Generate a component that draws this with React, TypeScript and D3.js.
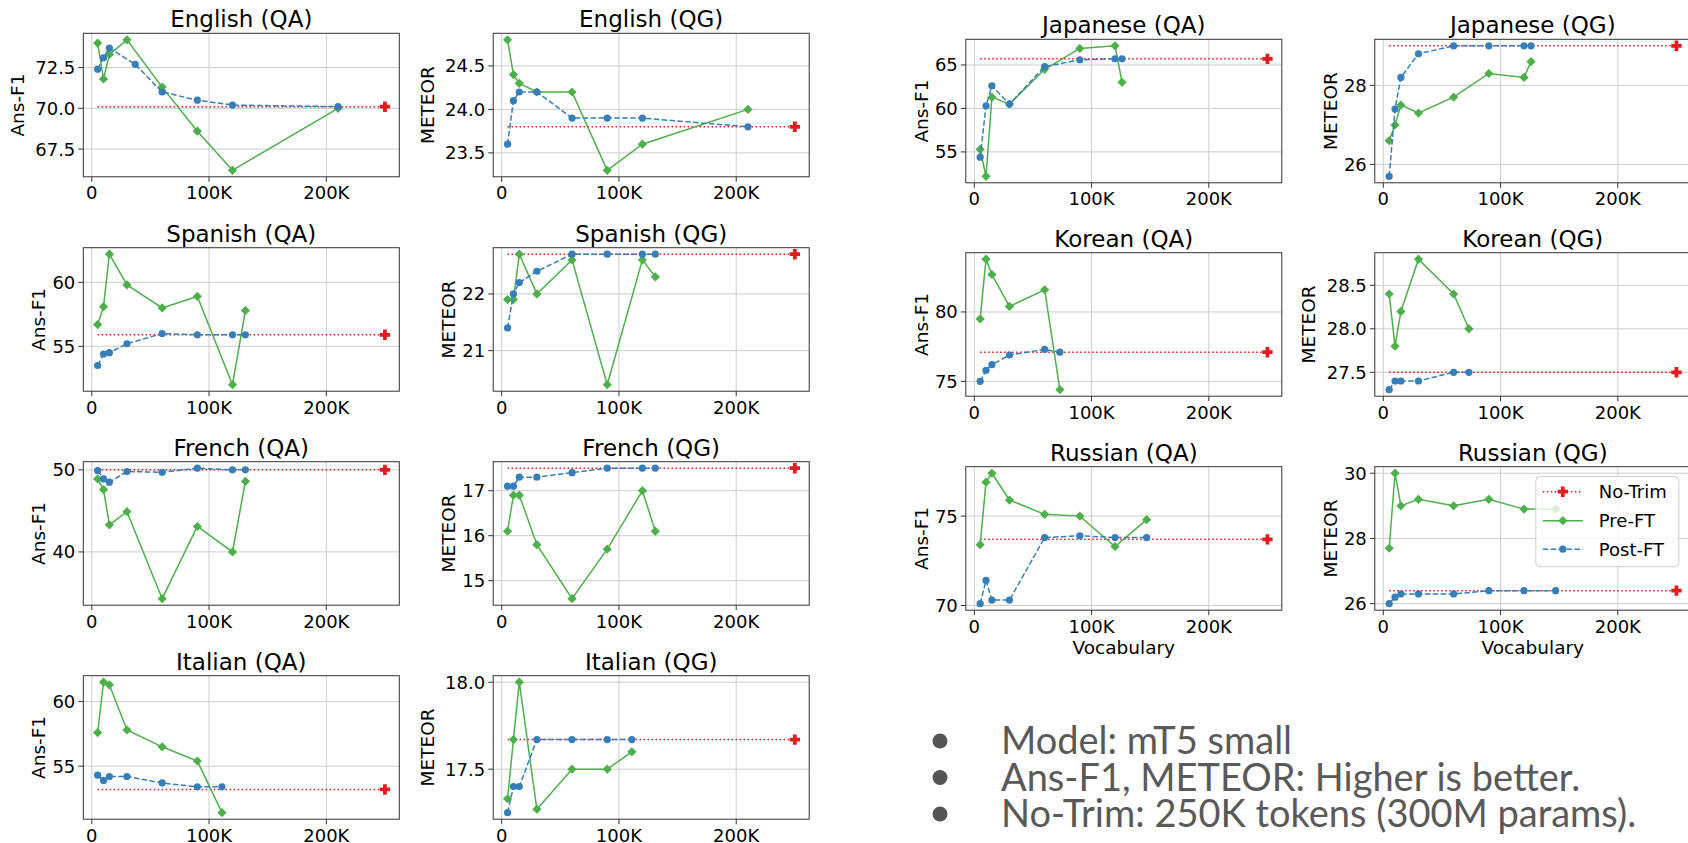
import React from "react";
import * as d3 from "d3";

// ---------------- DATA ----------------
const vocabEn = [5, 10, 15, 30, 60, 90, 120, 210];
const vocabEnQAPost = [5, 10, 15, 37, 60, 90, 120, 210];
const vocabEs = [5, 10, 15, 30, 60, 90, 120, 131];
const vocabFr = [5, 10, 15, 30, 60, 90, 120, 131];
const vocabIt = [5, 10, 15, 30, 60, 90, 111];
const vocabJa = [5, 10, 15, 30, 60, 90, 120, 126];
const vocabKo = [5, 10, 15, 30, 60, 73];
const vocabRu = [5, 10, 15, 30, 60, 90, 120, 147];
const noTrimVocab = 250;
const xTicks = [0, 100, 200];
const xTickLabels = ["0", "100K", "200K"];

const enQAPre = [74.0, 71.8, 73.3, 74.2, 71.3, 68.6, 66.2, 70.0];
const enQAPost = [72.4, 73.1, 73.7, 72.7, 71.0, 70.5, 70.2, 70.1];
const enQANoTrim = 70.1;
const enQGPre = [24.8, 24.4, 24.3, 24.2, 24.2, 23.3, 23.6, 24.0];
const enQGPost = [23.6, 24.1, 24.2, 24.2, 23.9, 23.9, 23.9, 23.8];
const enQGNoTrim = 23.8;

const esQAPre = [56.7, 58.1, 62.2, 59.8, 58.0, 58.9, 52.0, 57.8];
const esQAPost = [53.5, 54.4, 54.5, 55.2, 56.0, 55.9, 55.9, 55.9];
const esQANoTrim = 55.9;
const esQGPre = [21.9, 21.9, 22.7, 22.0, 22.6, 20.4, 22.6, 22.3];
const esQGPost = [21.4, 22.0, 22.2, 22.4, 22.7, 22.7, 22.7, 22.7];
const esQGNoTrim = 22.7;

const frQAPre = [48.9, 47.6, 43.3, 44.9, 34.3, 43.1, 40.0, 48.6];
const frQAPost = [49.9, 48.9, 48.5, 49.8, 49.7, 50.2, 50.0, 50.0];
const frQANoTrim = 50.0;
const frQGPre = [16.1, 16.9, 16.9, 15.8, 14.6, 15.7, 17.0, 16.1];
const frQGPost = [17.1, 17.1, 17.3, 17.3, 17.4, 17.5, 17.5, 17.5];
const frQGNoTrim = 17.5;

const itQAPre = [57.6, 61.5, 61.3, 57.8, 56.5, 55.4, 51.4];
const itQAPost = [54.3, 53.9, 54.2, 54.2, 53.7, 53.4, 53.4];
const itQANoTrim = 53.2;
const itQGPre = [17.33, 17.67, 18.0, 17.27, 17.5, 17.5, 17.6];
const itQGPost = [17.25, 17.4, 17.4, 17.67, 17.67, 17.67, 17.67];
const itQGNoTrim = 17.67;

const jaQAPre = [55.3, 52.2, 61.3, 60.5, 64.5, 66.9, 67.2, 63.0];
const jaQAPost = [54.4, 60.3, 62.6, 60.5, 64.8, 65.6, 65.7, 65.7];
const jaQANoTrim = 65.7;
const jaQGPre = [26.6, 27.0, 27.5, 27.3, 27.7, 28.3, 28.2, 28.6];
const jaQGPost = [25.7, 27.4, 28.2, 28.8, 29.0, 29.0, 29.0, 29.0];
const jaQGNoTrim = 29.0;

const koQAPre = [79.5, 83.8, 82.7, 80.4, 81.6, 74.4];
const koQAPost = [75.0, 75.8, 76.2, 76.9, 77.3, 77.1];
const koQANoTrim = 77.1;
const koQGPre = [28.4, 27.8, 28.2, 28.8, 28.4, 28.0];
const koQGPost = [27.3, 27.4, 27.4, 27.4, 27.5, 27.5];
const koQGNoTrim = 27.5;

const ruQAPre = [73.4, 76.9, 77.4, 75.9, 75.1, 75.0, 73.3, 74.8];
const ruQAPost = [70.1, 71.4, 70.3, 70.3, 73.8, 73.9, 73.8, 73.8];
const ruQANoTrim = 73.7;
const ruQGPre = [27.7, 30.0, 29.0, 29.2, 29.0, 29.2, 28.9, 28.9];
const ruQGPost = [26.0, 26.2, 26.3, 26.3, 26.3, 26.4, 26.4, 26.4];
const ruQGNoTrim = 26.4;

const legendLabels = ["No-Trim", "Pre-FT", "Post-FT"];
const bulletLines = [
  "Model: mT5 small",
  "Ans-F1, METEOR: Higher is better.",
  "No-Trim: 250K tokens (300M params).",
];

// ---------------- STYLE / LAYOUT ----------------
const RED = "#e41a1c";
const GREEN = "#4daf4a";
const BLUE = "#377eb8";
const FONT = "DejaVu Sans";
const PW = 316;
const PH = 143.5;
const colLeft = [83.3, 493.2, 965.8, 1374.8];
const leftRowTop = [33.3, 247.7, 461.7, 675.7];
const rightRowTop = [39.3, 252.7, 466.7];

type Panel = {
  title: string;
  ylabel: string;
  vocab: number[];
  postVocab?: number[];
  pre: number[];
  post: number[];
  noTrim: number;
  yTicks: number[];
  dec: number;
  left: number;
  top: number;
  xlabel?: boolean;
  legend?: boolean;
};

const panels: Panel[] = [
  { title: "English (QA)", ylabel: "Ans-F1", vocab: vocabEn, postVocab: vocabEnQAPost, pre: enQAPre, post: enQAPost, noTrim: enQANoTrim, yTicks: [67.5, 70, 72.5], dec: 1, left: colLeft[0], top: leftRowTop[0] },
  { title: "English (QG)", ylabel: "METEOR", vocab: vocabEn, pre: enQGPre, post: enQGPost, noTrim: enQGNoTrim, yTicks: [23.5, 24, 24.5], dec: 1, left: colLeft[1], top: leftRowTop[0] },
  { title: "Spanish (QA)", ylabel: "Ans-F1", vocab: vocabEs, pre: esQAPre, post: esQAPost, noTrim: esQANoTrim, yTicks: [55, 60], dec: 0, left: colLeft[0], top: leftRowTop[1] },
  { title: "Spanish (QG)", ylabel: "METEOR", vocab: vocabEs, pre: esQGPre, post: esQGPost, noTrim: esQGNoTrim, yTicks: [21, 22], dec: 0, left: colLeft[1], top: leftRowTop[1] },
  { title: "French (QA)", ylabel: "Ans-F1", vocab: vocabFr, pre: frQAPre, post: frQAPost, noTrim: frQANoTrim, yTicks: [40, 50], dec: 0, left: colLeft[0], top: leftRowTop[2] },
  { title: "French (QG)", ylabel: "METEOR", vocab: vocabFr, pre: frQGPre, post: frQGPost, noTrim: frQGNoTrim, yTicks: [15, 16, 17], dec: 0, left: colLeft[1], top: leftRowTop[2] },
  { title: "Italian (QA)", ylabel: "Ans-F1", vocab: vocabIt, pre: itQAPre, post: itQAPost, noTrim: itQANoTrim, yTicks: [55, 60], dec: 0, left: colLeft[0], top: leftRowTop[3] },
  { title: "Italian (QG)", ylabel: "METEOR", vocab: vocabIt, pre: itQGPre, post: itQGPost, noTrim: itQGNoTrim, yTicks: [17.5, 18], dec: 1, left: colLeft[1], top: leftRowTop[3] },
  { title: "Japanese (QA)", ylabel: "Ans-F1", vocab: vocabJa, pre: jaQAPre, post: jaQAPost, noTrim: jaQANoTrim, yTicks: [55, 60, 65], dec: 0, left: colLeft[2], top: rightRowTop[0] },
  { title: "Japanese (QG)", ylabel: "METEOR", vocab: vocabJa, pre: jaQGPre, post: jaQGPost, noTrim: jaQGNoTrim, yTicks: [26, 28], dec: 0, left: colLeft[3], top: rightRowTop[0] },
  { title: "Korean (QA)", ylabel: "Ans-F1", vocab: vocabKo, pre: koQAPre, post: koQAPost, noTrim: koQANoTrim, yTicks: [75, 80], dec: 0, left: colLeft[2], top: rightRowTop[1] },
  { title: "Korean (QG)", ylabel: "METEOR", vocab: vocabKo, pre: koQGPre, post: koQGPost, noTrim: koQGNoTrim, yTicks: [27.5, 28, 28.5], dec: 1, left: colLeft[3], top: rightRowTop[1] },
  { title: "Russian (QA)", ylabel: "Ans-F1", vocab: vocabRu, pre: ruQAPre, post: ruQAPost, noTrim: ruQANoTrim, yTicks: [70, 75], dec: 0, left: colLeft[2], top: rightRowTop[2], xlabel: true },
  { title: "Russian (QG)", ylabel: "METEOR", vocab: vocabRu, pre: ruQGPre, post: ruQGPost, noTrim: ruQGNoTrim, yTicks: [26, 28, 30], dec: 0, left: colLeft[3], top: rightRowTop[2], xlabel: true, legend: true },
];

function plusPath(cx: number, cy: number) {
  const s = 5.2, t = 1.9;
  return `M${cx - t},${cy - s}H${cx + t}V${cy - t}H${cx + s}V${cy + t}H${cx + t}V${cy + s}H${cx - t}V${cy + t}H${cx - s}V${cy - t}H${cx - t}Z`;
}
function diamondPath(cx: number, cy: number) {
  const s = 4.6;
  return `M${cx},${cy - s}L${cx + s},${cy}L${cx},${cy + s}L${cx - s},${cy}Z`;
}

function PanelView({ p, idx }: { p: Panel; idx: number }) {
  const xs = d3.min(p.vocab) as number;
  const xr = noTrimVocab - xs;
  const x = d3.scaleLinear().domain([xs - 0.05 * xr, noTrimVocab + 0.05 * xr]).range([0, PW]);
  const all = [...p.pre, ...p.post, p.noTrim];
  const lo = d3.min(all) as number;
  const hi = d3.max(all) as number;
  const yr = hi - lo;
  const y = d3.scaleLinear().domain([lo - 0.05 * yr, hi + 0.05 * yr]).range([PH, 0]);
  const line = d3.line<[number, number]>().x((d) => x(d[0])).y((d) => y(d[1]));
  const prePts = p.vocab.map((v, i) => [v, p.pre[i]] as [number, number]);
  const pv = p.postVocab || p.vocab;
  const postPts = pv.map((v, i) => [v, p.post[i]] as [number, number]);
  const ntPts: [number, number][] = [[xs, p.noTrim], [noTrimVocab, p.noTrim]];
  const fmt = d3.format(`.${p.dec}f`);
  const labelW = d3.max(p.yTicks.map((t) => fmt(t).length * 0.6 * 18)) as number;
  const clipId = `clip${idx}`;
  return (
    <g transform={`translate(${p.left},${p.top})`}>
      <defs>
        <clipPath id={clipId}>
          <rect x={-6} y={-6} width={PW + 12} height={PH + 12} />
        </clipPath>
      </defs>
      {xTicks.map((t) => (
        <line key={"gx" + t} x1={x(t)} x2={x(t)} y1={0} y2={PH} stroke="#cccccc" strokeWidth={1} />
      ))}
      {p.yTicks.map((t) => (
        <line key={"gy" + t} x1={0} x2={PW} y1={y(t)} y2={y(t)} stroke="#cccccc" strokeWidth={1} />
      ))}
      <g clipPath={`url(#${clipId})`}>
        <path d={line(ntPts) || ""} fill="none" stroke={RED} strokeWidth={1.5} strokeDasharray="1.5,2.5" />
        <path d={plusPath(x(noTrimVocab), y(p.noTrim))} fill={RED} />
        <path d={line(prePts) || ""} fill="none" stroke={GREEN} strokeWidth={1.5} />
        {prePts.map((d, i) => (
          <path key={"pm" + i} d={diamondPath(x(d[0]), y(d[1]))} fill={GREEN} />
        ))}
        <path d={line(postPts) || ""} fill="none" stroke={BLUE} strokeWidth={1.5} strokeDasharray="5.5,2.4" />
        {postPts.map((d, i) => (
          <circle key={"qm" + i} cx={x(d[0])} cy={y(d[1])} r={3.6} fill={BLUE} />
        ))}
      </g>
      <rect x={0} y={0} width={PW} height={PH} fill="none" stroke="#333" strokeWidth={1} />
      {xTicks.map((t, i) => (
        <g key={"xt" + t}>
          <line x1={x(t)} x2={x(t)} y1={PH} y2={PH + 5} stroke="#333" strokeWidth={1} />
          <text x={x(t)} y={PH + 22.5} textAnchor="middle" fontSize={18} fontFamily={FONT} fill="#000">
            {xTickLabels[i]}
          </text>
        </g>
      ))}
      {p.yTicks.map((t) => (
        <g key={"yt" + t}>
          <line x1={-5} x2={0} y1={y(t)} y2={y(t)} stroke="#333" strokeWidth={1} />
          <text x={-8} y={y(t)} dy="0.36em" textAnchor="end" fontSize={18} fontFamily={FONT} fill="#000">
            {fmt(t)}
          </text>
        </g>
      ))}
      <text x={PW / 2} y={-6} textAnchor="middle" fontSize={23} fontFamily={FONT} fill="#000">
        {p.title}
      </text>
      <text
        transform={`translate(${-8 - labelW - 15},${PH / 2}) rotate(-90)`}
        textAnchor="middle"
        dy="0.36em"
        fontSize={18.5}
        fontFamily={FONT}
        fill="#000"
      >
        {p.ylabel}
      </text>
      {p.xlabel && (
        <text x={PW / 2} y={PH + 44} textAnchor="middle" fontSize={18.5} fontFamily={FONT} fill="#000">
          Vocabulary
        </text>
      )}
      {p.legend && <Legend />}
    </g>
  );
}

function Legend() {
  const lx = 161, ly = 10, lw = 143, lh = 90;
  const rows = [15, 44, 72.5];
  return (
    <g transform={`translate(${lx},${ly})`}>
      <rect x={0} y={0} width={lw} height={lh} rx={4} fill="#fff" fillOpacity={0.8} stroke="#cccccc" strokeWidth={1} />
      <line x1={7} x2={47} y1={rows[0]} y2={rows[0]} stroke={RED} strokeWidth={1.5} strokeDasharray="1.5,2.5" />
      <path d={plusPath(27, rows[0])} fill={RED} />
      <line x1={7} x2={47} y1={rows[1]} y2={rows[1]} stroke={GREEN} strokeWidth={1.5} />
      <path d={diamondPath(27, rows[1])} fill={GREEN} />
      <line x1={7} x2={47} y1={rows[2]} y2={rows[2]} stroke={BLUE} strokeWidth={1.5} strokeDasharray="5.5,2.4" />
      <circle cx={27} cy={rows[2]} r={3.6} fill={BLUE} />
      {legendLabels.map((l, i) => (
        <text key={l} x={63} y={rows[i]} dy="0.36em" fontSize={18} fontFamily={FONT} fill="#000">
          {l}
        </text>
      ))}
    </g>
  );
}

export default function App() {
  return (
    <div style={{ position: "absolute", left: 0, top: 0, width: 1688, height: 843, background: "#fff" }}>
      <svg width={1688} height={843} style={{ display: "block" }}>
        <rect x={0} y={0} width={1688} height={843} fill="#fff" />
        {panels.map((p, i) => (
          <PanelView key={p.title} p={p} idx={i} />
        ))}
        {bulletLines.map((t, i) => (
          <g key={t}>
            <circle cx={940} cy={741 + i * 36.5} r={7.5} fill="#555" />
            <text x={1001} y={754 + i * 36.5} fontSize={38} fontFamily="Lato" fill="#595959">
              {t}
            </text>
          </g>
        ))}
      </svg>
    </div>
  );
}
